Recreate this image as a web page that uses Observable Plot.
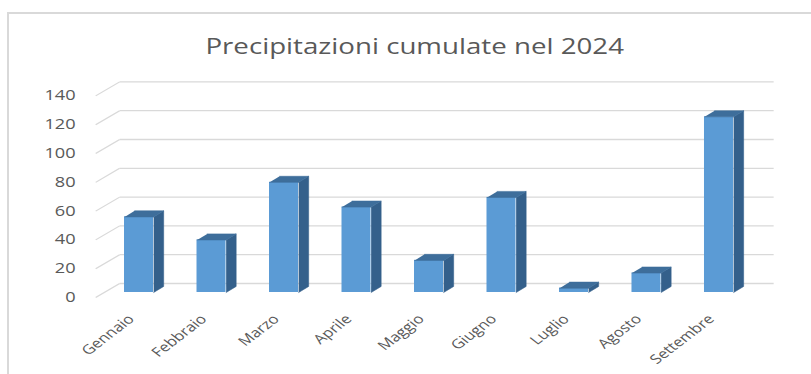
<!DOCTYPE html>
<html><head><meta charset="utf-8">
<script src="https://cdn.jsdelivr.net/npm/d3@7"></script>
<script src="https://cdn.jsdelivr.net/npm/@observablehq/plot@0.6"></script>
<style>
body{margin:0;background:#fff;overflow:hidden;width:811px;height:374px;position:relative;}
#frame{position:absolute;left:7px;top:12px;width:900px;height:500px;border-left:2px solid #d9d9d9;border-top:2px solid #d9d9d9;}
#stretch{position:absolute;left:0;top:0;width:624px;height:374px;transform:scaleX(1.3);transform-origin:0 0;}
#title{position:absolute;left:7px;width:624px;top:35px;line-height:21px;text-align:center;font-family:"Open Sans";font-size:21.3px;color:#595959;white-space:nowrap;}
#stretch svg{position:absolute;left:0;top:0;}
</style></head>
<body>
<div id="frame"></div>
<div id="stretch"><div id="title">Precipitazioni cumulate nel 2024</div></div>
<script>
const months = ["Gennaio","Febbraio","Marzo","Aprile","Maggio","Giugno","Luglio","Agosto","Settembre"];
const values = [52.5, 36.5, 76.5, 59.3, 22.3, 66, 3, 13.5, 122];
const yTicks = [0, 20, 40, 60, 80, 100, 120, 140];

const S = 1.3;
const W = 811 / S;
// geometry (index units for x, value units for y)
const HW = 0.2, DX = 0.138, DY = 4.2;
const BACK_L = -0.269, BACK_R = 8.752, BACK_DY = 6.25;
const FRONT_L = -0.6, FRONT_DY = -3.5;
const LABEL_X = -0.876;

const rows = months.map((m, i) => ({m, i, v: values[i]}));
const sideFaces = rows.flatMap(d => {
  const R = d.i + HW;
  return [[R, 0], [R + DX, DY], [R + DX, d.v + DY], [R, d.v]].map(([x, y]) => ({id: d.m, x, y}));
});
const topFaces = rows.flatMap(d => {
  const L = d.i - HW, R = d.i + HW;
  return [[L, d.v], [R, d.v], [R + DX, d.v + DY], [L + DX, d.v + DY]].map(([x, y]) => ({id: d.m, x, y}));
});

const chart = Plot.plot({
  width: W, height: 374,
  marginLeft: 0, marginRight: 0, marginTop: 0, marginBottom: 0,
  style: {fontFamily: "'Open Sans'", background: "transparent", overflow: "visible"},
  x: {type: "linear", domain: [-138.5 / 72.5, (811 - 138.5) / 72.5], range: [0, W], axis: null},
  y: {type: "linear", domain: [0, 140], range: [292, 90.4], axis: null},
  marks: [
    Plot.link(yTicks, {x1: () => BACK_L, x2: () => BACK_R, y1: d => d + BACK_DY, y2: d => d + BACK_DY, stroke: "#d9d9d9", strokeWidth: 1.3}),
    Plot.link(yTicks, {x1: () => FRONT_L, y1: d => d + FRONT_DY, x2: () => BACK_L, y2: d => d + BACK_DY, stroke: "#d9d9d9", strokeWidth: 1.1}),
    Plot.text(yTicks, {x: () => LABEL_X, y: d => d + FRONT_DY, text: d => String(d), textAnchor: "end", fill: "#595959", fontSize: 14}),
    Plot.rect(rows, {x1: d => d.i - HW, x2: d => d.i + HW, y1: () => 0, y2: "v", fill: "#5b9bd5"}),
    Plot.line(sideFaces, {x: "x", y: "y", z: "id", fill: "#34608b", stroke: "#34608b", strokeWidth: 0.5}),
    Plot.line(topFaces, {x: "x", y: "y", z: "id", fill: "#3e6e9b", stroke: "#3e6e9b", strokeWidth: 0.5}),
    Plot.text(rows, {x: "i", y: () => -19, text: "m", rotate: -45, textAnchor: "end", lineAnchor: "bottom", dx: -3, fill: "#595959", fontSize: 13})
  ]
});
document.getElementById("stretch").append(chart);
</script>
</body></html>
